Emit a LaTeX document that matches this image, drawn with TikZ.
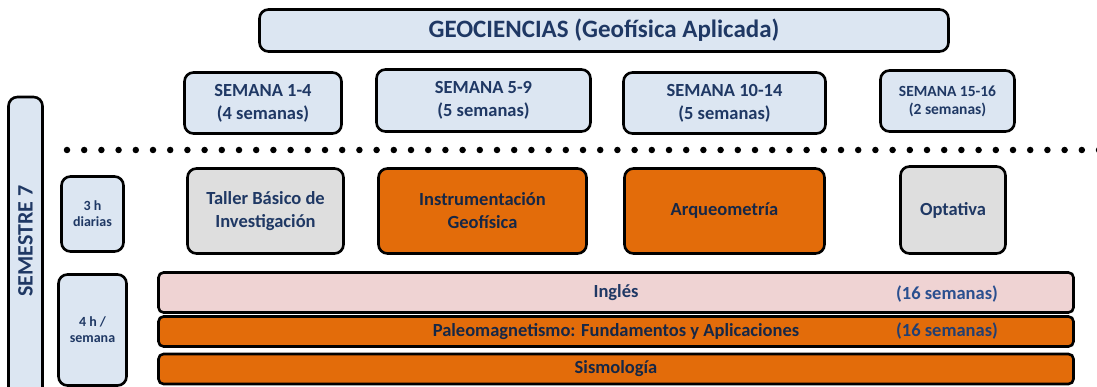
\documentclass[tikz,border=0pt]{standalone}
\usepackage{fontspec}
\setmainfont{Carlito}
\usepackage{xcolor}
\usepackage{tikz}

\definecolor{azulclaro}{HTML}{DCE6F2}
\definecolor{naranja}{HTML}{E36C0A}
\definecolor{grisclaro}{HTML}{DEDEDE}
\definecolor{rosa}{HTML}{EFD3D3}
\definecolor{marino}{HTML}{1F3864}
\definecolor{azultxt}{HTML}{2A4F8F}

\begin{document}
\begin{tikzpicture}[x=1pt,y=-1pt,
    caja/.style={draw=black, line width=2.6pt, rounded corners=9pt, inner sep=0pt, align=center, text=marino},
    semana/.style={caja, fill=azulclaro},
    materia/.style={caja, fill=naranja, text=marino!70!black},
    barra/.style={caja, fill=naranja, rounded corners=5pt, text=marino!70!black, minimum width=915pt},
    fgrande/.style={font=\bfseries\fontsize{25}{28}\selectfont},
    fmedia/.style={font=\bfseries\fontsize{18.5}{23}\selectfont},
    fchica/.style={font=\bfseries\fontsize{14}{16}\selectfont},
    puntos/.style={line width=6.5pt, line cap=round, dash pattern=on 0pt off 17.2pt}]

    \useasboundingbox (0,0) rectangle (1097,387);
    \clip (0,0) rectangle (1097,387);

    % Titulo
    \node[semana, fgrande, minimum width=689pt, minimum height=42pt] (geo) at (604,30.5) {GEOCIENCIAS (Geofísica Aplicada)};

    % Semanas
    \node[semana, fmedia, minimum width=157pt, minimum height=61pt] (sem1) at (263,103) {SEMANA 1-4\\(4 semanas)};
    \node[semana, fmedia, minimum width=214pt, minimum height=62pt] (sem2) at (483.5,100.5) {SEMANA 5-9\\(5 semanas)};
    \node[semana, fmedia, minimum width=202pt, minimum height=61pt] (sem3) at (724.5,103) {SEMANA 10-14\\(5 semanas)};
    \node[semana, font=\bfseries\fontsize{15.5}{18}\selectfont, minimum width=134pt, minimum height=61pt] (sem4) at (947.5,101) {SEMANA 15-16\\(2 semanas)};

    % Separador
    \draw[puntos] (67,150) -- (1105,150);

    % Semestre
    \node[semana, minimum width=34pt, minimum height=330pt] (semestre) at (25.5,262) {};
    \node[font=\bfseries\fontsize{22}{26}\selectfont, text=marino, rotate=90] (semtxt) at (25.5,241) {SEMESTRE 7};

    % Horas
    \node[semana, fchica, minimum width=62pt, minimum height=75pt] (h3) at (92.5,214) {3 h\\diarias};
    \node[semana, fchica, minimum width=68pt, minimum height=111pt] (h4) at (92.5,330) {4 h /\\semana};

    % Materias
    \node[caja, fill=grisclaro, fmedia, minimum width=156pt, minimum height=85pt] (taller) at (265.5,211) {Taller Básico de\\Investigación};
    \node[materia, fmedia, minimum width=208pt, minimum height=85pt] (instr) at (482.5,211) {Instrumentación\\Geofísica};
    \node[materia, fmedia, minimum width=200pt, minimum height=85pt] (arqueo) at (724.5,211) {Arqueometría};
    \node[caja, fill=grisclaro, fmedia, minimum width=105pt, minimum height=87pt] (optativa) at (953,210) {Optativa};

    % Materias de 16 semanas
    \node[barra, fill=rosa, text=marino, fmedia, minimum height=40pt] (ingles) at (616,292.5) {Inglés};
    \node[barra, fmedia, minimum height=30pt] (paleo) at (616,331.5) {Paleomagnetismo: Fundamentos y Aplicaciones};
    \node[barra, fmedia, minimum height=30pt] (sismo) at (616,369) {Sismología};
    \node[fmedia, text=azultxt] (ingdur) at (947,294) {(16 semanas)};
    \node[fmedia, text=azultxt!80!black] (paldur) at (947,331) {(16 semanas)};
\end{tikzpicture}
\end{document}
